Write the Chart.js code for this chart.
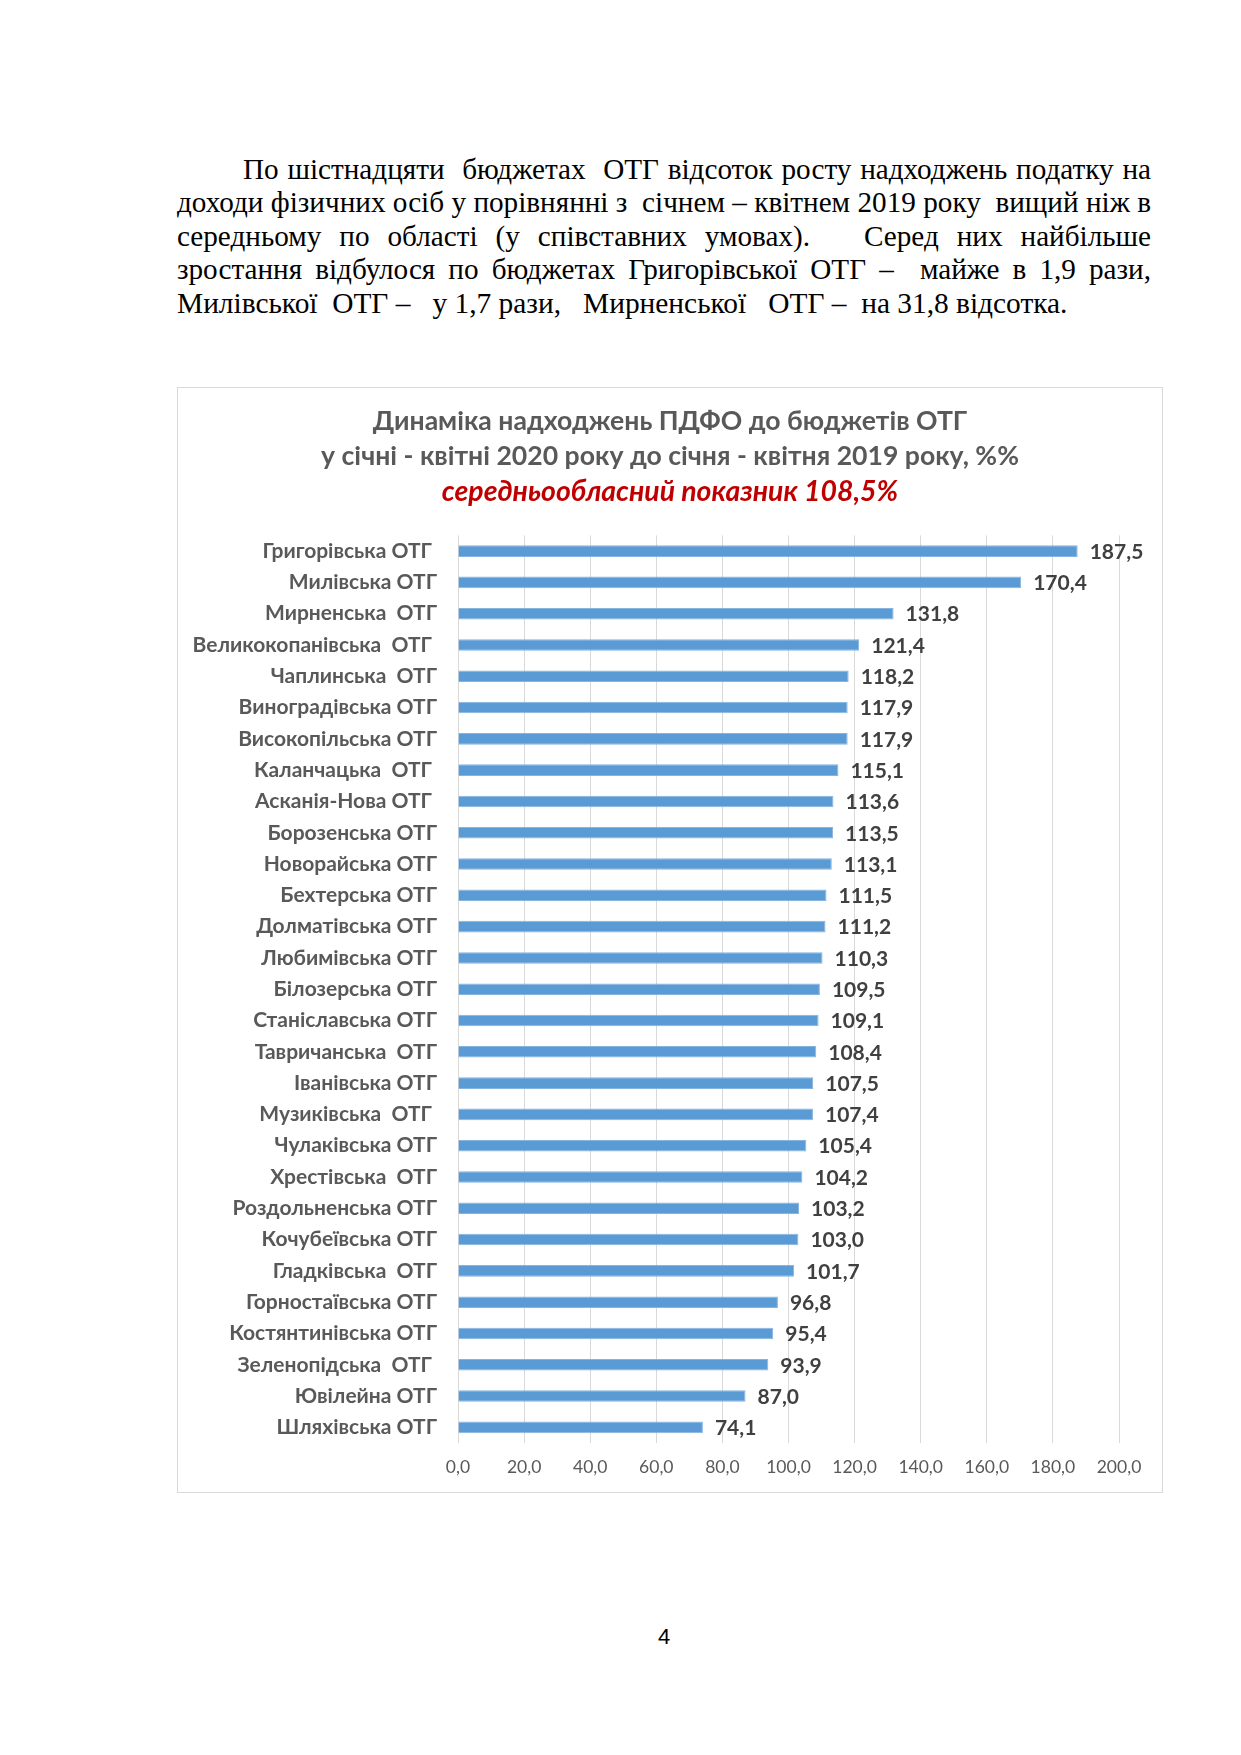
<!DOCTYPE html>
<html lang="uk">
<head>
<meta charset="utf-8">
<title>Динаміка надходжень ПДФО до бюджетів ОТГ</title>
<script src="https://cdn.jsdelivr.net/npm/chart.js@4.4.1/dist/chart.umd.min.js"></script>
<style>
    html, body { margin: 0; padding: 0; background: #fff; }
    body { width: 1241px; height: 1755px; position: relative; overflow: hidden; }
    .para {
        position: absolute; left: 177px; top: 153px; width: 974px;
        font-family: "Liberation Serif", "Times New Roman", serif;
        font-size: 29.2px; line-height: 33.4px; color: #000;
    }
    .para .j { text-align: justify; text-align-last: justify; white-space: pre-wrap; }
    .para .first { padding-left: 66px; }
    .para .last { white-space: pre; font-size: 29.4px; }
    .chart-box {
        position: absolute; left: 177px; top: 387px; width: 986px; height: 1106px;
        border: 1px solid #d9d9d9; box-sizing: border-box;
    }
    .page-num {
        position: absolute; left: 644px; width: 40px; top: 1624px; text-align: center;
        font-family: "Liberation Sans", Arial, sans-serif; font-size: 22px; color: #000;
    }
</style>
</head>
<body>
<div class="para">
    <div class="j first">По шістнадцяти  бюджетах  ОТГ відсоток росту надходжень податку на</div>
    <div class="j">доходи фізичних осіб у порівнянні з  січнем – квітнем 2019 року  вищий ніж в</div>
    <div class="j">середньому по області (у співставних умовах).   Серед них найбільше</div>
    <div class="j">зростання відбулося по бюджетах Григорівської ОТГ –  майже в 1,9 рази,</div>
    <div class="last">Милівської  ОТГ –   у 1,7 рази,   Мирненської   ОТГ –  на 31,8 відсотка.</div>
</div>

<div class="chart-box"><canvas id="pdfoChart"></canvas></div>
<div class="page-num">4</div>

<script>
// Дані діаграми
const categories = [
    'Григорівська ОТГ ', 'Милівська ОТГ', 'Мирненська  ОТГ', 'Великокопанівська  ОТГ ',
    'Чаплинська  ОТГ', 'Виноградівська ОТГ', 'Високопільська ОТГ', 'Каланчацька  ОТГ ',
    'Асканія-Нова ОТГ ', 'Борозенська ОТГ', 'Новорайська ОТГ', 'Бехтерська ОТГ',
    'Долматівська ОТГ', 'Любимівська ОТГ', 'Білозерська ОТГ', 'Станіславська ОТГ',
    'Тавричанська  ОТГ', 'Іванівська ОТГ', 'Музиківська  ОТГ ', 'Чулаківська ОТГ',
    'Хрестівська  ОТГ', 'Роздольненська ОТГ', 'Кочубеївська ОТГ', 'Гладківська  ОТГ',
    'Горностаївська ОТГ', 'Костянтинівська ОТГ', 'Зеленопідська  ОТГ ', 'Ювілейна ОТГ',
    'Шляхівська ОТГ'
];
const values = [
    187.5, 170.4, 131.8, 121.4, 118.2, 117.9, 117.9, 115.1, 113.6, 113.5,
    113.1, 111.5, 111.2, 110.3, 109.5, 109.1, 108.4, 107.5, 107.4, 105.4,
    104.2, 103.2, 103.0, 101.7, 96.8, 95.4, 93.9, 87.0, 74.1
];
const tickLabels = ['0,0', '20,0', '40,0', '60,0', '80,0', '100,0', '120,0', '140,0', '160,0', '180,0', '200,0'];

const titleLines = ['Динаміка надходжень ПДФО до бюджетів ОТГ', 'у січні - квітні 2020 року до січня - квітня 2019 року, %%'];
const subtitleText = 'середньообласний показник 108,5%';

// Підписи значень біля кінця смуг
const valueLabels = {
    id: 'valueLabels',
    afterDatasetsDraw(chart) {
        const ctx = chart.ctx;
        const meta = chart.getDatasetMeta(0);
        ctx.save();
        ctx.font = 'bold 21px Lato';
        ctx.fillStyle = '#404040';
        ctx.textAlign = 'left';
        ctx.textBaseline = 'middle';
        meta.data.forEach((bar, i) => {
            ctx.fillText(values[i].toFixed(1).replace('.', ','), bar.x + 12, bar.y + 1);
        });
        ctx.restore();
    }
};

// Заголовок по центру всієї рамки, а не області з відступом справа
const centerTitles = {
    id: 'centerTitles',
    afterLayout(chart) {
        chart.boxes.forEach(box => {
            if (box.options && box.options.text !== undefined && box.position === 'top') {
                box.left = 0;
                box.right = chart.width;
                box.width = chart.width;
            }
        });
    }
};

document.addEventListener('DOMContentLoaded', () => {
    const ctx = document.getElementById('pdfoChart').getContext('2d');

    new Chart(ctx, {
        type: 'bar',
        data: {
            labels: categories,
            datasets: [{
                data: values,
                backgroundColor: '#5b9bd5',
                borderColor: '#86b4e0',
                borderWidth: 1,
                barPercentage: 0.37,
                categoryPercentage: 1.0
            }]
        },
        plugins: [valueLabels, centerTitles],
        options: {
            indexAxis: 'y',
            responsive: true,
            maintainAspectRatio: false,
            animation: false,
            layout: {
                padding: { left: 0, right: 43, top: 16, bottom: 0 }
            },
            plugins: {
                legend: { display: false },
                tooltip: { enabled: false },
                title: {
                    display: true,
                    text: titleLines,
                    color: '#595959',
                    font: { family: 'Lato', size: 26.6, weight: 'bold', lineHeight: 1.32 },
                    padding: { top: 0, bottom: 0 }
                },
                subtitle: {
                    display: true,
                    text: subtitleText,
                    color: '#c00000',
                    font: { family: 'Lato', size: 28.4, weight: 'bold', style: 'italic', lineHeight: 1.24 },
                    padding: { top: 0, bottom: 26 }
                }
            },
            scales: {
                x: {
                    min: 0,
                    max: 200,
                    ticks: {
                        stepSize: 20,
                        color: '#595959',
                        font: { family: 'Lato', size: 17.5 },
                        padding: 14,
                        callback: (value, index) => tickLabels[index]
                    },
                    grid: { color: '#d9d9d9', drawTicks: false },
                    border: { display: false }
                },
                y: {
                    ticks: {
                        color: '#595959',
                        font: { family: 'Lato', size: 21, weight: 'bold' },
                        padding: 13,
                        autoSkip: false
                    },
                    grid: { display: false },
                    border: { display: false },
                    afterFit: scale => { scale.width = 280; }
                }
            }
        }
    });
});
</script>
</body>
</html>
